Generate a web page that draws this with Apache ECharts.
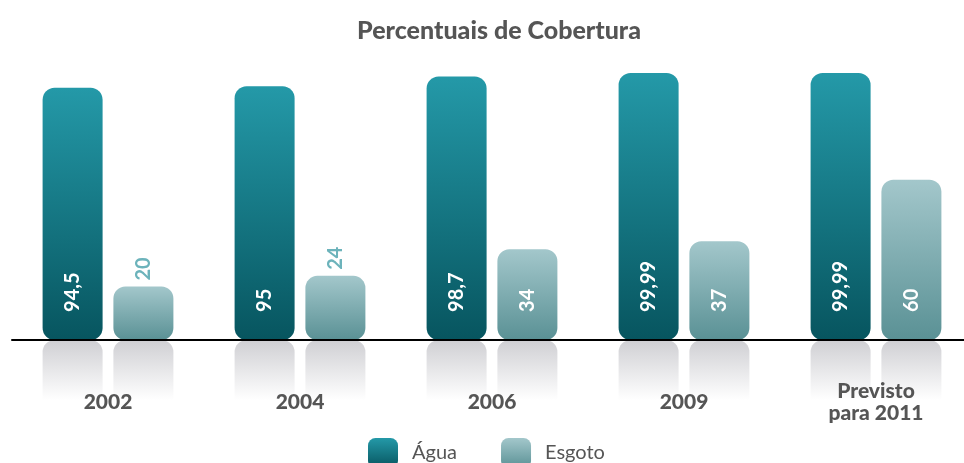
<!DOCTYPE html>
<html><head><meta charset="utf-8">
<script src="https://cdn.jsdelivr.net/npm/echarts@6/dist/echarts.min.js"></script>
<style>html,body{margin:0;padding:0;background:#fff}#c{width:964px;height:463px}</style>
</head><body><div id="c"></div>
<script>
const categories = ['2002', '2004', '2006', '2009', 'Previsto\npara 2011'];
const agua = [94.5, 95, 98.7, 99.99, 99.99];
const esgoto = [20, 24, 34, 37, 60];
const reflectDepth = 22.5;

const fmt = v => String(v).replace('.', ',');
const FONT = 'Lato';

function lin(c0, c1) {
  return new echarts.graphic.LinearGradient(0, 0, 0, 1, [{offset: 0, color: c0}, {offset: 1, color: c1}]);
}
const aguaGrad = lin('#2499a8', '#07555f');
const esgGrad = lin('#a3c7cb', '#5a9195');
const reflGrad = lin('#cfcfd3', '#ffffff');

const insideLabel = {
  show: true, position: 'insideBottom', distance: 28, rotate: 90,
  align: 'left', verticalAlign: 'middle',
  color: '#fff', fontFamily: FONT, fontWeight: 'bold', fontSize: 20,
  formatter: p => fmt(p.value)
};
const outsideLabel = Object.assign({}, insideLabel, {position: 'top', distance: 6, color: '#6cb3bb'});

const chart = echarts.init(document.getElementById('c'), null, {renderer: 'canvas'});
chart.setOption({
  animation: false,
  title: {
    text: 'Percentuais de Cobertura', left: 494, textAlign: 'center', top: 13,
    textStyle: {fontFamily: FONT, fontWeight: 900, fontSize: 25, color: '#555'}
  },
  legend: {
    data: ['Água', 'Esgoto'], left: 368, top: 438, padding: 0,
    itemWidth: 30, itemHeight: 30, itemGap: 44, icon: 'roundRect',
    textStyle: {fontFamily: FONT, fontSize: 20, color: '#555', padding: [0, 0, 0, 9]}
  },
  grid: {left: 12, width: 960, top: 73, bottom: 63, outerBoundsMode: 'none', containLabel: false},
  xAxis: {
    type: 'category', data: categories, z: 5,
    axisTick: {show: false},
    axisLine: {lineStyle: {color: '#000', width: 2}},
    axisLabel: {
      interval: 0, margin: 2, verticalAlign: 'middle', lineHeight: 22,
      fontFamily: FONT, fontWeight: 900, fontSize: 21, color: '#555'
    }
  },
  yAxis: {type: 'value', min: -reflectDepth, max: 100, show: false, splitLine: {show: false}},
  series: [
    {
      name: 'Água', type: 'bar', stack: 'a', barWidth: 60, barGap: '18%',
      data: agua,
      itemStyle: {color: aguaGrad, borderRadius: 12},
      label: insideLabel
    },
    {
      name: 'Esgoto', type: 'bar', stack: 'b', barWidth: 60,
      data: esgoto.map(v => ({value: v, label: v < 30 ? outsideLabel : insideLabel})),
      itemStyle: {color: esgGrad, borderRadius: 12},
      label: insideLabel
    },
    {
      name: 'reflA', type: 'bar', stack: 'a', barWidth: 60, silent: true,
      data: agua.map(() => -reflectDepth),
      itemStyle: {color: reflGrad, borderRadius: [12, 12, 0, 0]}
    },
    {
      name: 'reflE', type: 'bar', stack: 'b', barWidth: 60, silent: true,
      data: esgoto.map(() => -reflectDepth),
      itemStyle: {color: reflGrad, borderRadius: [12, 12, 0, 0]}
    }
  ]
});
</script></body></html>
